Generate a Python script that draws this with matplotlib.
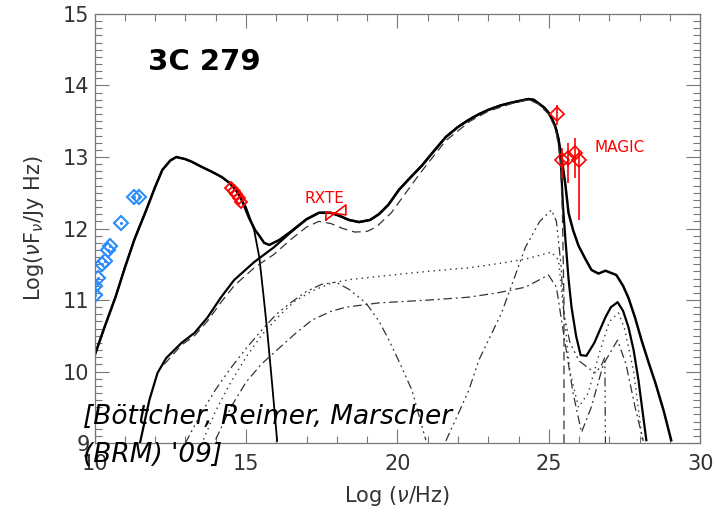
import matplotlib
matplotlib.use('Agg')
import numpy as np
import matplotlib.pyplot as plt
from matplotlib.ticker import MultipleLocator

# synchrotron component
sync_x = [10.0, 10.33, 10.7, 11.0, 11.32, 11.71, 12.0, 12.24, 12.5, 12.7, 13.0, 13.23, 13.5, 13.89,
          14.2, 14.45, 14.7, 15.0, 15.27, 15.44, 15.57, 15.7, 15.87, 16.03]
sync_y = [10.22, 10.62, 11.05, 11.45, 11.85, 12.26, 12.58, 12.82, 12.95, 13.0, 12.97, 12.93, 12.87, 12.79,
          12.72, 12.64, 12.52, 12.3, 11.98, 11.6, 11.1, 10.58, 9.8, 9.03]

# total SED
tot_x = [10.0, 10.33, 10.7, 11.0, 11.32, 11.71, 12.0, 12.24, 12.5, 12.7, 13.0, 13.23, 13.5, 13.89, 14.2,
         14.45, 14.7, 14.88, 15.1, 15.3, 15.44, 15.6, 15.77, 16.1, 16.49, 17.0, 17.41, 17.8, 18.07, 18.4,
         18.73, 19.1, 19.39, 19.7, 20.05, 20.4, 20.81, 21.2, 21.6, 22.0, 22.36, 22.7, 23.01, 23.4, 23.77,
         24.1, 24.33, 24.5, 24.66, 24.85, 24.99, 25.12, 25.22, 25.32, 25.42, 25.55, 25.65, 25.8, 25.98,
         26.2, 26.41, 26.64, 26.87, 27.05, 27.23, 27.45, 27.63, 27.85, 28.06, 28.3, 28.52, 28.8, 29.04]
tot_y = [10.22, 10.62, 11.05, 11.45, 11.85, 12.26, 12.58, 12.82, 12.95, 13.0, 12.97, 12.93, 12.87, 12.79, 12.72,
         12.64, 12.52, 12.38, 12.15, 11.98, 11.9, 11.8, 11.77, 11.84, 11.96, 12.13, 12.22, 12.22, 12.18, 12.12,
         12.09, 12.12, 12.2, 12.33, 12.54, 12.7, 12.88, 13.08, 13.28, 13.42, 13.52, 13.6, 13.66, 13.72, 13.76,
         13.79, 13.81, 13.8, 13.75, 13.69, 13.62, 13.52, 13.42, 13.25, 13.0, 12.6, 12.22, 11.98, 11.76,
         11.58, 11.42, 11.37, 11.41, 11.38, 11.35, 11.2, 11.03, 10.75, 10.44, 10.12, 9.84, 9.44, 9.04]

# high energy total (no synchrotron)
he_x = [11.5, 11.81, 12.08, 12.37, 12.87, 13.3, 13.72, 14.18, 14.61, 15.27, 15.93, 16.49, 17.0, 17.41,
        17.8, 18.07, 18.4, 18.73, 19.1, 19.39, 19.7, 20.05, 20.4, 20.81, 21.2, 21.6, 22.0, 22.36, 22.7,
        23.01, 23.4, 23.77, 24.1, 24.33, 24.5, 24.66, 24.85, 24.99, 25.12, 25.22, 25.32, 25.4, 25.47,
        25.55, 25.65, 25.75, 25.9, 26.05, 26.24, 26.5, 26.87, 27.05, 27.27, 27.45, 27.63, 27.8, 27.96, 28.22]
he_y = [9.0, 9.6, 9.98, 10.19, 10.4, 10.54, 10.75, 11.04, 11.28, 11.53, 11.74, 11.95, 12.13, 12.22,
        12.22, 12.18, 12.12, 12.09, 12.12, 12.2, 12.33, 12.54, 12.7, 12.88, 13.08, 13.28, 13.42, 13.52, 13.6,
        13.66, 13.72, 13.76, 13.79, 13.81, 13.8, 13.75, 13.69, 13.62, 13.52, 13.42, 13.25, 12.9, 12.3,
        11.84, 11.3, 10.9, 10.5, 10.23, 10.22, 10.4, 10.76, 10.9, 10.97, 10.85, 10.62, 10.3, 9.88, 9.04]

# dashed component
dash_x = [12.3, 12.87, 13.3, 13.72, 14.18, 14.61, 15.27, 15.93, 16.49, 17.0, 17.41, 17.8, 18.2, 18.6,
          19.0, 19.3, 19.8, 20.4, 20.8, 21.6, 22.4, 23.0, 23.8, 24.33, 24.66, 24.99, 25.22, 25.38,
          25.45, 25.5, 25.5]
dash_y = [10.1, 10.37, 10.5, 10.7, 10.97, 11.2, 11.45, 11.64, 11.85, 12.02, 12.1, 12.07, 12.0, 11.95,
          11.96, 12.02, 12.22, 12.57, 12.8, 13.23, 13.5, 13.64, 13.75, 13.8, 13.74, 13.6, 13.4, 13.0,
          12.2, 11.0, 9.0]

# dotted component
dot_x = [13.6, 14.0, 14.5, 15.0, 15.5, 16.1, 16.6, 17.2, 17.84, 18.5, 19.4, 20.5, 21.5, 22.36, 23.5,
         24.3, 25.09, 25.32, 25.5, 25.7, 25.98, 26.3, 26.7, 27.0, 27.3, 27.5, 27.8, 28.1]
dot_y = [9.05, 9.45, 9.85, 10.2, 10.5, 10.78, 10.98, 11.13, 11.24, 11.29, 11.33, 11.38, 11.42, 11.45, 11.52,
         11.58, 11.67, 11.56, 10.8, 10.0, 9.5, 9.7, 10.3, 10.7, 10.82, 10.6, 10.0, 9.0]

# dash-dot component
dd_x = [14.0, 14.5, 15.0, 15.5, 16.1, 16.6, 17.18, 17.8, 18.3, 19.39, 21.04, 22.36, 23.3, 24.23, 24.99,
        25.25, 25.5, 25.8, 26.08, 26.4, 26.8, 27.27, 27.55, 27.85, 28.12]
dd_y = [9.05, 9.5, 9.85, 10.1, 10.33, 10.52, 10.72, 10.84, 10.9, 10.96, 11.0, 11.04, 11.1, 11.18, 11.35,
        11.18, 10.5, 9.7, 9.15, 9.5, 10.1, 10.44, 10.1, 9.5, 9.03]

# dash-dot-dot-dot component peaking near 10^18 Hz
ssc_x = [13.0, 13.5, 14.0, 14.5, 15.0, 15.5, 16.0, 16.5, 17.0, 17.5, 17.97, 18.4, 18.96, 19.4, 19.72,
         20.1, 20.48, 20.94]
ssc_y = [9.0, 9.4, 9.75, 10.05, 10.32, 10.57, 10.8, 10.97, 11.12, 11.22, 11.25, 11.15, 10.96, 10.7, 10.44,
         10.1, 9.74, 9.04]

# dash-dot-dot-dot component peaking near 10^25 Hz
ec_x = [21.6, 22.0, 22.36, 22.69, 23.44, 24.23, 24.7, 25.09, 25.25, 25.4, 25.5, 25.7, 26.0, 26.3, 26.55,
        26.75, 26.85, 26.87]
ec_y = [9.03, 9.4, 9.74, 10.16, 10.82, 11.74, 12.1, 12.26, 12.1, 11.5, 10.8, 10.4, 10.15, 10.05, 9.98,
        10.1, 10.2, 9.0]

# observations
blue_x = [10.0, 10.03, 10.1, 10.26, 10.33, 10.45, 10.52, 10.89, 11.32, 11.48]
blue_y = [11.07, 11.2, 11.31, 11.5, 11.55, 11.7, 11.76, 12.08, 12.44, 12.44]
opt_x = [14.52, 14.6, 14.68, 14.76, 14.84]
opt_y = [12.57, 12.53, 12.48, 12.42, 12.37]
rxte_x = [17.64, 18.30]
rxte_lo = [12.12, 12.19]
rxte_hi = [12.23, 12.33]
magic_x = [25.26, 25.42, 25.62, 25.85, 26.01]
magic_y = [13.6, 12.96, 12.99, 13.06, 12.96]
magic_lo = [13.45, 12.71, 12.64, 12.71, 12.12]
magic_hi = [13.73, 13.13, 13.2, 13.27, 13.1]

fig = plt.figure(figsize=(7.16, 5.17), dpi=100)
ax = fig.add_axes([0.132, 0.143, 0.846, 0.830])

ax.plot(tot_x, tot_y, color='black', lw=1.8)
ax.plot(sync_x, sync_y, color='black', lw=1.3)
ax.plot(he_x, he_y, color='black', lw=1.6)
ax.plot(dash_x, dash_y, color='#333333', lw=0.9, linestyle=(0, (7, 4)))
ax.plot(dot_x, dot_y, color='#333333', lw=1.0, linestyle=(0, (1, 3)))
ax.plot(dd_x, dd_y, color='#333333', lw=0.9, linestyle=(0, (7, 3, 1.5, 3)))
ax.plot(ssc_x, ssc_y, color='#333333', lw=0.9, linestyle=(0, (7, 3, 1.5, 3, 1.5, 3, 1.5, 3)))
ax.plot(ec_x, ec_y, color='#333333', lw=0.9, linestyle=(0, (7, 3, 1.5, 3, 1.5, 3, 1.5, 3)))

ax.plot(blue_x, blue_y, linestyle='none', marker='D', markersize=7, mfc='none', mec='#2b8cff', mew=1.5)
ax.plot(blue_x, blue_y, linestyle='none', marker='.', markersize=2.5, color='#2b8cff')
ax.plot(opt_x, opt_y, linestyle='none', marker='D', markersize=6.5, mfc='none', mec='red', mew=1.3)

# RXTE bowtie
ax.plot([rxte_x[0], rxte_x[1], rxte_x[1], rxte_x[0], rxte_x[0]],
        [rxte_lo[0], rxte_hi[1], rxte_lo[1], rxte_hi[0], rxte_lo[0]], color='red', lw=1.2)
ax.text(17.6, 12.42, 'RXTE', color='red', fontsize=11, ha='center', va='center')

# MAGIC
yerr = [np.array(magic_y) - np.array(magic_lo), np.array(magic_hi) - np.array(magic_y)]
ax.errorbar(magic_x, magic_y, yerr=yerr, fmt='D', markersize=7.5, mfc='none', mec='red', mew=1.2,
            ecolor='red', elinewidth=1.2, capsize=0)
ax.text(27.35, 13.13, 'MAGIC', color='red', fontsize=11, ha='center', va='center')

ax.set_xlim(10, 30)
ax.set_ylim(9, 15)
ax.xaxis.set_major_locator(MultipleLocator(5))
ax.xaxis.set_minor_locator(MultipleLocator(1))
ax.yaxis.set_major_locator(MultipleLocator(1))
ax.yaxis.set_minor_locator(MultipleLocator(0.1))
ax.tick_params(which='both', direction='in', top=True, right=True, color='#777777',
               labelsize=15, labelcolor='#333333')
ax.tick_params(which='major', length=10, width=0.8)
ax.tick_params(which='minor', length=5, width=0.8)
ax.tick_params(axis='x', pad=8)
for s in ax.spines.values():
    s.set_color('#777777')
    s.set_linewidth(0.9)

ax.set_xlabel(r'Log ($\nu$/Hz)', fontsize=15, color='#333333', labelpad=7)
ax.set_ylabel(r'Log($\nu$F$_\nu$/Jy Hz)', fontsize=15, color='#333333', labelpad=12)

fig.text(0.207, 0.88, '3C 279', fontsize=21, fontweight='bold', ha='left', va='center')
fig.text(0.116, 0.193, "[Böttcher, Reimer, Marscher", fontsize=19, style='italic', ha='left', va='center')
fig.text(0.116, 0.120, "(BRM) '09]", fontsize=19, style='italic', ha='left', va='center')

fig.savefig('out.png', dpi=100)
